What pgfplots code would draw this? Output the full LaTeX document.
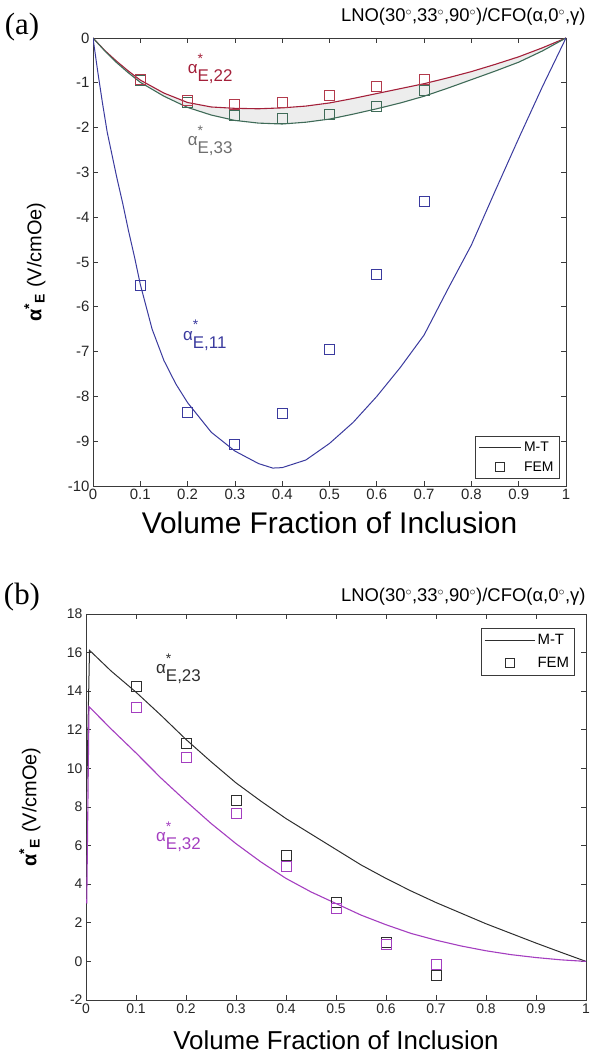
\documentclass[border=0pt]{standalone}
\usepackage{fontspec}
\setmainfont{Liberation Sans}
\newfontfamily\seriffont{Liberation Serif}
\usepackage{pgfplots}
\pgfplotsset{compat=1.18}
\usepgfplotslibrary{fillbetween}

\definecolor{redc}{HTML}{A4203A}
\definecolor{redm}{HTML}{B23A4C}
\definecolor{greenc}{HTML}{3F6B58}
\definecolor{bluec}{HTML}{3A3A9E}
\definecolor{grayl}{HTML}{6E6E6E}
\definecolor{purc}{HTML}{A43EC0}
\definecolor{blk}{HTML}{2E2E2E}
\definecolor{axc}{HTML}{3A3A3A}

\newcommand{\fs}[1]{\fontsize{#1}{#1}\selectfont}
% alpha*_{E,ij} annotation
\newcommand{\alab}[1]{{\fs{17}α\rlap{\raisebox{0.62em}{\fs{14}*}}\raisebox{-0.45em}{\fs{17}#1}}}

\pgfplotsset{
  mt/.style={
    scale only axis,
    xmin=0, xmax=1,
    xtick={0,0.1,0.2,0.3,0.4,0.5,0.6,0.7,0.8,0.9,1},
    /pgf/number format/assume math mode=true,
    tick label style={text=black!85},
    tick align=inside,
    major tick length=5bp,
    axis line style={axc, line width=0.8bp},
    every tick/.style={axc, line width=0.8bp},
    xlabel={Volume Fraction of Inclusion},
    xlabel style={at={(axis description cs:0.5,0)}, anchor=center},
    ylabel={{\bfseries α\textsuperscript{*}\textsubscript{E}} (V/cmOe)},
    ylabel style={font=\fs{20}, at={(axis description cs:0,0.5)}, anchor=center},
    legend cell align=left,
    legend style={draw=axc, line width=0.8bp, font=\fs{14}, inner xsep=3bp, inner ysep=3bp,
      row sep=4bp, nodes={inner sep=2.5bp}},
  },
  mk/.style={only marks, mark=square, mark size=5bp, mark options={line width=1bp, fill=none}},
  lgline/.style={legend image code/.code={\draw[blk, line width=0.8bp] (0bp,0bp) -- (#1,0bp);}},
  lgsq/.style={legend image code/.code={\draw[blk, line width=0.8bp] (#1-4.5bp,-4.5bp) rectangle (#1+4.5bp,4.5bp);}},
}

\begin{document}
\begin{tikzpicture}
\path (0bp,0bp) rectangle (592bp,1057bp);

% ---------- panel (a) ----------
\node[anchor=center, font=\seriffont\fs{31}] at (22bp,1030bp) {(a)};
\node[anchor=east, font=\fs{18.5}] at (589bp,1040bp) {LNO(30$^{\circ}$,33$^{\circ}$,90$^{\circ}$)/CFO(α,0$^{\circ}$,γ)};

\begin{axis}[mt,
  at={(93bp,571bp)}, anchor=south west,
  width=473bp, height=448bp,
  ymin=-10, ymax=0, ytick={-10,-9,...,0},
  tick label style={font=\fs{15}},
  xlabel style={font=\fs{30}, yshift=-37bp},
  ylabel style={yshift=58bp},
  legend style={at={(axis description cs:0.986,0.016)}, anchor=south east},
]
\addlegendimage{lgline=42bp}
\addlegendentry{M-T}
\addlegendimage{lgsq=21bp}
\addlegendentry{FEM}

% M-T predictions: band between the two upper curves
\addplot[name path=a22, draw=none, forget plot] coordinates {
(0,0) (0.025,-0.28) (0.05,-0.52) (0.075,-0.74) (0.1,-0.94) (0.15,-1.23) (0.2,-1.44)
(0.25,-1.54) (0.3,-1.57) (0.35,-1.58) (0.4,-1.56) (0.45,-1.52) (0.5,-1.45) (0.55,-1.35)
(0.6,-1.24) (0.65,-1.13) (0.7,-1.02) (0.75,-0.89) (0.8,-0.75) (0.85,-0.59) (0.9,-0.42)
(0.95,-0.22) (1,0)};
\addplot[name path=a33, draw=none, forget plot] coordinates {
(0,0) (0.025,-0.29) (0.05,-0.55) (0.075,-0.78) (0.1,-0.99) (0.15,-1.3) (0.2,-1.55)
(0.25,-1.72) (0.3,-1.84) (0.35,-1.9) (0.4,-1.92) (0.45,-1.88) (0.5,-1.81) (0.55,-1.7)
(0.6,-1.58) (0.65,-1.45) (0.7,-1.3) (0.75,-1.12) (0.8,-0.93) (0.85,-0.74) (0.9,-0.54)
(0.95,-0.29) (1,0)};
\addplot[gray!14, forget plot] fill between[of=a22 and a33];

\addplot[redc, line width=1.1bp, forget plot] coordinates {
(0,0) (0.025,-0.28) (0.05,-0.52) (0.075,-0.74) (0.1,-0.94) (0.15,-1.23) (0.2,-1.44)
(0.25,-1.54) (0.3,-1.57) (0.35,-1.58) (0.4,-1.56) (0.45,-1.52) (0.5,-1.45) (0.55,-1.35)
(0.6,-1.24) (0.65,-1.13) (0.7,-1.02) (0.75,-0.89) (0.8,-0.75) (0.85,-0.59) (0.9,-0.42)
(0.95,-0.22) (1,0)};
\addplot[greenc, line width=1.1bp, forget plot] coordinates {
(0,0) (0.025,-0.29) (0.05,-0.55) (0.075,-0.78) (0.1,-0.99) (0.15,-1.3) (0.2,-1.55)
(0.25,-1.72) (0.3,-1.84) (0.35,-1.9) (0.4,-1.92) (0.45,-1.88) (0.5,-1.81) (0.55,-1.7)
(0.6,-1.58) (0.65,-1.45) (0.7,-1.3) (0.75,-1.12) (0.8,-0.93) (0.85,-0.74) (0.9,-0.54)
(0.95,-0.29) (1,0)};
\addplot[bluec, line width=1bp, forget plot] coordinates {
(0,0) (0.01,-0.75) (0.02,-1.45) (0.03,-2.1) (0.04,-2.6) (0.05,-3.1) (0.063,-3.7)
(0.075,-4.3) (0.088,-4.9) (0.1,-5.5) (0.125,-6.5) (0.15,-7.2) (0.175,-7.72) (0.2,-8.14)
(0.25,-8.8) (0.3,-9.22) (0.35,-9.5) (0.38,-9.6) (0.4,-9.59) (0.45,-9.42) (0.5,-9.05)
(0.55,-8.58) (0.6,-8.0) (0.65,-7.35) (0.7,-6.63) (0.75,-5.61) (0.8,-4.62) (0.85,-3.42)
(0.9,-2.24) (0.95,-1.09) (1,0)};

% FEM results
\addplot[mk, greenc, forget plot] coordinates {
(0.1,-0.95) (0.2,-1.43) (0.3,-1.72) (0.4,-1.79) (0.5,-1.71) (0.6,-1.54) (0.7,-1.17)};
\addplot[mk, redm, forget plot] coordinates {
(0.1,-0.93) (0.2,-1.40) (0.3,-1.49) (0.4,-1.44) (0.5,-1.28) (0.6,-1.09) (0.7,-0.93)};
\addplot[mk, bluec, forget plot] coordinates {
(0.1,-5.52) (0.2,-8.35) (0.3,-9.07) (0.4,-8.39) (0.5,-6.95) (0.6,-5.29) (0.7,-3.65)};

\node[anchor=base west, text=redc, inner sep=0pt] at (axis cs:0.2,-0.8) {\alab{E,22}};
\node[anchor=base west, text=grayl, inner sep=0pt] at (axis cs:0.2,-2.4) {\alab{E,33}};
\node[anchor=base west, text=bluec, inner sep=0pt] at (axis cs:0.19,-6.75) {\alab{E,11}};
\end{axis}

% ---------- panel (b) ----------
\node[anchor=center, font=\seriffont\fs{31}] at (22bp,460bp) {(b)};
\node[anchor=east, font=\fs{18.5}] at (589bp,460bp) {LNO(30$^{\circ}$,33$^{\circ}$,90$^{\circ}$)/CFO(α,0$^{\circ}$,γ)};

\begin{axis}[mt,
  at={(86bp,57bp)}, anchor=south west,
  width=500bp, height=386bp,
  ymin=-2, ymax=18, ytick={-2,0,...,18},
  tick label style={font=\fs{14}},
  xlabel style={font=\fs{26}, yshift=-40bp},
  ylabel style={yshift=56bp},
  legend style={at={(axis description cs:0.978,0.965)}, anchor=north east,
    font=\fs{15}, row sep=6bp, inner ysep=4bp},
]
\addlegendimage{lgline=50bp}
\addlegendentry{M-T}
\addlegendimage{lgsq=25bp}
\addlegendentry{FEM}

% M-T predictions
\addplot[blk, line width=1bp, forget plot] coordinates {
(0.0015,8.8) (0.007,16.12) (0.05,15.05) (0.1,13.95) (0.15,12.75) (0.2,11.5) (0.25,10.35)
(0.3,9.25) (0.35,8.3) (0.4,7.4) (0.45,6.6) (0.5,5.8) (0.55,5.0) (0.6,4.3) (0.65,3.65)
(0.7,3.05) (0.75,2.5) (0.8,1.95) (0.85,1.45) (0.9,0.95) (0.95,0.47) (1,0)};
\addplot[purc, line width=1.1bp, forget plot] coordinates {
(0.0015,3.0) (0.006,13.2) (0.05,12.05) (0.1,10.8) (0.15,9.5) (0.2,8.3) (0.25,7.15)
(0.3,6.1) (0.35,5.15) (0.4,4.3) (0.45,3.6) (0.5,3.0) (0.55,2.4) (0.6,1.9) (0.65,1.45)
(0.7,1.1) (0.75,0.8) (0.8,0.55) (0.85,0.35) (0.9,0.2) (0.95,0.08) (1,0)};

% FEM results
\addplot[mk, blk, forget plot] coordinates {
(0.1,14.25) (0.2,11.29) (0.3,8.34) (0.4,5.50) (0.5,3.05) (0.6,0.99) (0.7,-0.73)};
\addplot[mk, purc, forget plot] coordinates {
(0.1,13.14) (0.2,10.55) (0.3,7.66) (0.4,4.90) (0.5,2.72) (0.6,0.85) (0.7,-0.17)};

\node[anchor=base west, text=blk, inner sep=0pt] at (axis cs:0.140,14.9) {\alab{E,23}};
\node[anchor=base west, text=purc, inner sep=0pt] at (axis cs:0.140,6.2) {\alab{E,32}};
\end{axis}
\end{tikzpicture}
\end{document}
